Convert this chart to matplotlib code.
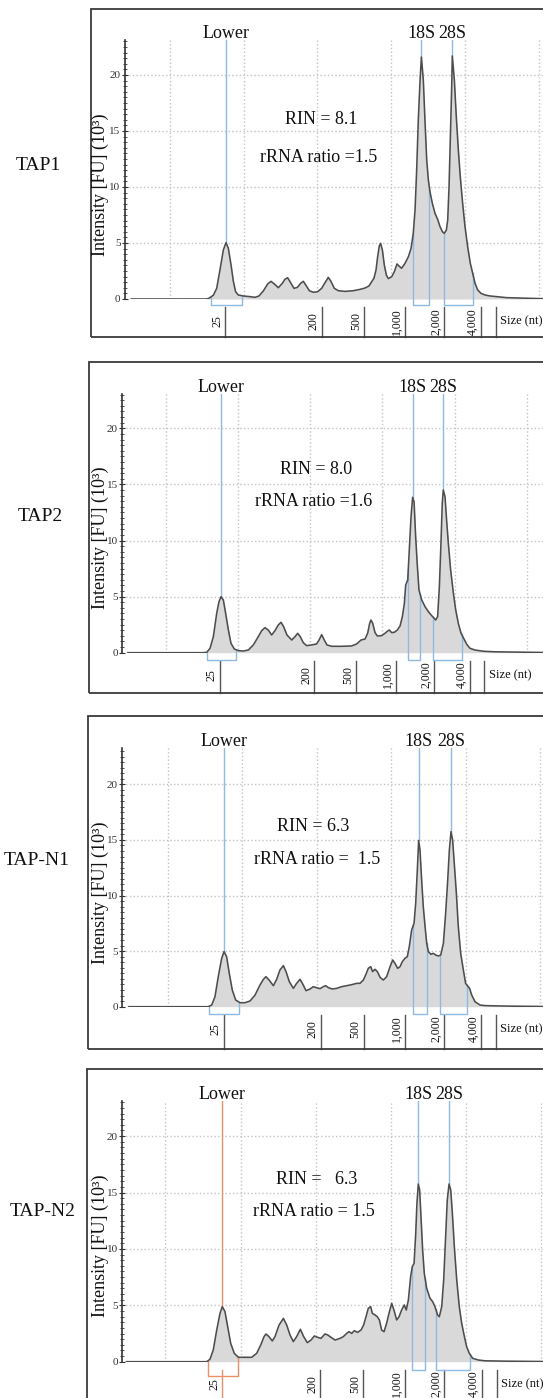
import numpy as np
import matplotlib
matplotlib.use('Agg')
import matplotlib.pyplot as plt
from matplotlib.patches import Rectangle
from matplotlib.ticker import MultipleLocator

# Times 风格字体
plt.rcParams['font.family'] = ['Liberation Serif', 'DejaVu Serif']

W, H = 543, 1398

samples = ['TAP1', 'TAP2', 'TAP-N1', 'TAP-N2']
rin_text = ['RIN = 8.1', 'RIN = 8.0', 'RIN = 6.3', 'RIN =   6.3']
ratio_text = ['rRNA ratio =1.5', 'rRNA ratio =1.6', 'rRNA ratio =  1.5', 'rRNA ratio = 1.5']

# ladder (size in nt) -> migration time (s)
ladder_nt = ['25', '200', '500', '1,000', '2,000', '4,000']
ladder_t = [23.77, 30.3, 33.17, 35.92, 38.57, 41.05]
size_sep = 42.05

# electropherograms: time (s), intensity (FU x 10^3)
t1 = [17.4, 22.4, 22.61, 22.95, 23.18, 23.40, 23.63, 23.81, 23.97, 24.15, 24.31, 24.46, 24.64, 24.98, 25.43,
      25.77, 26.04, 26.33, 26.63, 26.85, 27.08, 27.35, 27.62, 27.80, 27.98, 28.18, 28.41, 28.64, 28.86, 29.04,
      29.22, 29.45, 29.72, 30.01, 30.28, 30.51, 30.73, 30.91, 31.14, 31.41, 31.86, 32.42, 32.88, 33.21, 33.48,
      33.67, 33.82, 33.96, 34.07, 34.18, 34.27, 34.39, 34.52, 34.66, 34.79, 35.02, 35.20, 35.38, 35.51, 35.69,
      35.92, 36.15, 36.33, 36.48, 36.60, 36.71, 36.82, 36.94, 37.03, 37.16, 37.27, 37.39, 37.50, 37.61, 37.77,
      37.95, 38.13, 38.29, 38.45, 38.58, 38.72, 38.81, 38.90, 38.99, 39.08, 39.12, 39.26, 39.39, 39.53, 39.66,
      39.82, 39.98, 40.16, 40.34, 40.50, 40.66, 40.84, 41.06, 41.33, 41.67, 42.80, 44.38, 45.3]
y1 = [0.0, 0.0, 0.03, 0.33, 0.95, 2.59, 4.38, 5.03, 4.52, 3.04, 1.55, 0.65, 0.36, 0.27, 0.21,
      0.15, 0.27, 0.71, 1.34, 1.58, 1.34, 1.01, 1.40, 1.76, 1.90, 1.46, 0.95, 1.04, 1.40, 1.58,
      1.22, 0.74, 0.60, 0.65, 0.95, 1.46, 1.93, 1.58, 0.95, 0.74, 0.68, 0.74, 0.86, 0.98, 1.16,
      1.55, 1.85, 2.59, 3.78, 4.73, 4.97, 4.38, 3.04, 2.14, 1.82, 1.99, 2.44, 3.13, 2.95, 2.74,
      3.18, 3.78, 4.52, 5.86, 7.95, 11.52, 15.98, 19.55, 21.6, 19.55, 15.98, 12.41, 10.63, 9.58, 8.54,
      7.65, 7.11, 6.46, 6.01, 5.86, 6.16, 7.05, 10.03, 14.49, 18.96, 21.7, 19.55, 16.28, 13.30, 10.92,
      8.54, 6.46, 4.67, 3.18, 2.29, 1.40, 0.80, 0.51, 0.36, 0.27, 0.12, 0.06, 0.03]

t2 = [17.4, 22.5, 22.85, 23.08, 23.31, 23.54, 23.70, 23.84, 24.00, 24.16, 24.35, 24.53, 24.76, 25.04, 25.38,
      25.73, 26.07, 26.42, 26.65, 26.88, 27.11, 27.34, 27.57, 27.80, 27.99, 28.17, 28.40, 28.73, 28.96, 29.14,
      29.32, 29.53, 29.76, 30.11, 30.45, 30.62, 30.80, 30.98, 31.17, 31.49, 32.18, 32.87, 33.22, 33.52, 33.80,
      33.98, 34.12, 34.21, 34.33, 34.49, 34.65, 34.95, 35.18, 35.36, 35.48, 35.64, 35.83, 36.03, 36.22, 36.38,
      36.52, 36.61, 36.75, 36.86, 36.98, 37.09, 37.19, 37.30, 37.42, 37.53, 37.72, 37.95, 38.18, 38.41, 38.59,
      38.68, 38.82, 38.94, 39.05, 39.14, 39.21, 39.33, 39.44, 39.56, 39.72, 39.91, 40.07, 40.25, 40.44, 40.62,
      40.83, 41.06, 41.40, 41.87, 42.10, 42.79, 46.1]
y2 = [0.0, 0.0, 0.03, 0.39, 1.43, 3.51, 4.55, 4.99, 4.70, 3.51, 2.02, 0.83, 0.33, 0.18, 0.15,
      0.24, 0.69, 1.43, 1.96, 2.23, 2.02, 1.58, 1.96, 2.47, 2.71, 2.32, 1.58, 1.13, 1.43, 1.73,
      1.43, 0.89, 0.63, 0.69, 0.78, 1.13, 1.61, 1.13, 0.69, 0.57, 0.57, 0.60, 0.78, 1.13, 1.22,
      1.73, 2.62, 2.91, 2.62, 1.79, 1.49, 1.52, 1.73, 1.93, 2.02, 1.79, 1.82, 2.02, 2.38, 3.21,
      4.40, 6.03, 6.48, 9.15, 12.12, 13.85, 13.46, 10.34, 7.67, 5.59, 4.70, 4.10, 3.66, 3.30, 3.06,
      2.91, 3.21, 5.89, 9.75, 13.31, 14.50, 13.91, 11.83, 9.75, 7.37, 5.29, 3.81, 2.62, 1.73, 1.28,
      0.75, 0.39, 0.24, 0.15, 0.12, 0.08, 0.02]

t3 = [17.4, 22.5, 22.73, 22.96, 23.18, 23.40, 23.63, 23.79, 23.96, 24.14, 24.34, 24.57, 24.86, 25.19, 25.53,
      25.87, 26.20, 26.43, 26.60, 26.81, 27.10, 27.32, 27.54, 27.77, 27.95, 28.17, 28.44, 28.66, 28.89, 29.07,
      29.29, 29.56, 29.78, 30.00, 30.23, 30.45, 30.61, 30.79, 31.06, 31.35, 31.68, 32.02, 32.35, 32.69, 32.91,
      33.14, 33.32, 33.47, 33.63, 33.76, 33.92, 34.08, 34.26, 34.48, 34.70, 34.93, 35.11, 35.26, 35.44, 35.60,
      35.75, 35.93, 36.09, 36.22, 36.38, 36.54, 36.65, 36.76, 36.85, 36.94, 37.05, 37.16, 37.28, 37.39, 37.50,
      37.68, 37.83, 37.99, 38.17, 38.33, 38.51, 38.66, 38.80, 38.91, 39.02, 39.13, 39.24, 39.38, 39.51, 39.67,
      39.85, 40.00, 40.14, 40.27, 40.41, 40.63, 40.97, 41.30, 41.8, 43.0, 46.6]
y3 = [0.0, 0.0, 0.0, 0.15, 0.90, 2.70, 4.35, 4.95, 4.50, 3.00, 1.50, 0.60, 0.36, 0.36, 0.51,
      1.05, 1.95, 2.46, 2.70, 2.40, 1.89, 2.46, 3.30, 3.69, 3.15, 2.25, 1.65, 2.10, 2.46, 2.04,
      1.44, 1.59, 1.80, 1.71, 1.62, 1.80, 1.89, 1.71, 1.59, 1.65, 1.80, 1.89, 1.98, 2.10, 2.10,
      2.40, 2.94, 3.45, 3.60, 3.15, 3.36, 3.15, 2.64, 2.40, 2.70, 3.60, 4.20, 3.90, 3.45, 3.60,
      4.05, 4.35, 4.50, 5.40, 6.90, 7.50, 9.30, 12.29, 14.95, 14.09, 11.39, 9.00, 7.20, 5.70, 4.95,
      4.71, 4.80, 4.65, 4.56, 4.65, 5.70, 8.40, 11.39, 14.09, 15.74, 14.99, 12.89, 10.20, 7.20, 4.80,
      3.30, 2.10, 1.86, 1.65, 1.05, 0.45, 0.15, 0.10, 0.08, 0.05, 0.0]

t4 = [17.4, 22.5, 22.74, 22.96, 23.18, 23.41, 23.63, 23.78, 23.96, 24.14, 24.34, 24.58, 24.85, 25.29, 25.74,
      26.07, 26.34, 26.56, 26.69, 26.89, 27.11, 27.29, 27.56, 27.85, 28.07, 28.29, 28.51, 28.73, 28.98, 29.20,
      29.44, 29.69, 29.91, 30.13, 30.35, 30.62, 30.80, 31.02, 31.29, 31.62, 31.84, 32.06, 32.22, 32.40, 32.57,
      32.79, 33.02, 33.19, 33.35, 33.50, 33.66, 33.77, 33.95, 34.10, 34.24, 34.39, 34.55, 34.72, 34.88, 35.06,
      35.21, 35.39, 35.55, 35.72, 35.90, 36.03, 36.17, 36.32, 36.43, 36.55, 36.66, 36.74, 36.83, 36.92, 37.01,
      37.12, 37.23, 37.39, 37.61, 37.79, 37.94, 38.12, 38.23, 38.39, 38.52, 38.65, 38.76, 38.88, 38.99, 39.10,
      39.23, 39.39, 39.56, 39.72, 39.90, 40.05, 40.23, 40.45, 40.83, 41.27, 42.5, 46.6]
y4 = [0.0, 0.0, 0.0, 0.21, 1.04, 2.81, 4.29, 4.88, 4.44, 3.11, 1.63, 0.74, 0.39, 0.39, 0.39,
      0.74, 1.48, 2.22, 2.46, 2.22, 1.84, 2.22, 3.25, 3.84, 3.25, 2.37, 1.78, 2.22, 2.87, 2.22,
      1.69, 1.92, 2.28, 2.16, 2.07, 2.46, 2.37, 2.16, 1.92, 2.07, 2.22, 2.51, 2.66, 2.51, 2.75,
      2.60, 2.81, 3.25, 3.99, 4.73, 4.88, 4.29, 4.14, 3.99, 3.70, 2.81, 2.66, 3.40, 4.29, 5.17,
      4.58, 3.70, 3.99, 4.58, 5.03, 4.58, 5.47, 7.54, 8.42, 8.72, 11.38, 14.04, 15.75, 15.22, 12.86,
      9.90, 7.83, 6.50, 5.62, 5.32, 4.88, 4.14, 3.99, 4.88, 7.24, 11.08, 14.34, 15.75, 15.22, 13.15,
      10.20, 7.24, 4.88, 3.40, 2.22, 1.33, 0.74, 0.30, 0.15, 0.08, 0.05, 0.0]

times = [t1, t2, t3, t4]
traces = [y1, y2, y3, y4]

# peak markers and integration windows (s)
lower_pos = [23.81, 23.84, 23.79, 23.78]
s18_pos = [37.03, 37.09, 36.85, 36.83]
s28_pos = [39.12, 39.21, 39.02, 38.88]
lower_win = [(22.79, 24.87), (22.85, 24.88), (22.78, 24.81), (22.85, 24.85)]
win18 = [(36.48, 37.57), (36.79, 37.60), (36.49, 37.39), (36.43, 37.28)]
win28 = [(38.58, 40.50), (38.52, 40.48), (38.28, 40.07), (37.99, 40.27)]

# layout in pixels
frames = [(91, 9, 337), (89, 362.3, 692.7), (87.6, 715.7, 1049), (86.6, 1068.7, 1430)]
ax_x0 = [124.7, 121.9, 121.9, 121.9]
ax_base = [299.0, 652.7, 1006.7, 1361.7]
ax_top = [40.3, 394.3, 748.3, 1100.7]
grid20 = [169.7, 165.5, 167.6, 165.5]
px_per_s = [14.78, 14.46, 14.9, 15.02]
px_per_fu = [11.2, 11.22, 11.12, 11.28]
name_xy = [(38, 165), (40.7, 516.7), (36.4, 860.7), (42.3, 1211.7)]
ylab_y = [185, 537.5, 893, 1245.8]
rin_xy = [(321, 119), (315.8, 469.3), (313.4, 826.7), (316.8, 1180)]
ratio_xy = [(318.6, 157), (313.4, 501.7), (316.8, 859.3), (313.4, 1211)]
bracket_px = [6, 7, 7, 8]
lower_bracket_px = [6, 7, 7, 14]

blue = '#8db9e2'
orange = '#e8906a'
trace_c = '#4d4d4d'
fill_c = '#d9d9d9'
text_c = '#111111'

fig = plt.figure(figsize=(W / 100, H / 100), dpi=100)

for i in range(4):
    fl, ft, fb = frames[i]
    # 外框
    fig.add_artist(Rectangle((fl / W, 1 - fb / H), (W + 30 - fl) / W, (fb - ft) / H,
                             transform=fig.transFigure, fill=False, ec='#3a3a3a', lw=1.3))

    x0, base, top = ax_x0[i], ax_base[i], ax_top[i]
    pxs, ppu = px_per_s[i], px_per_fu[i]
    ax = fig.add_axes([x0 / W, 1 - base / H, (W - x0) / W, (base - top) / H])
    ax.patch.set_alpha(0)
    ytop = (base - top) / ppu
    ax.set_xlim(20 - (grid20[i] - x0) / pxs, 20 + (W - grid20[i]) / pxs)
    ax.set_ylim(0, ytop)

    for s in ['top', 'right', 'bottom']:
        ax.spines[s].set_visible(False)
    ax.spines['left'].set_color('#333333')
    ax.spines['left'].set_linewidth(1.2)

    ax.set_xticks(np.arange(20, 50, 5))
    ax.tick_params(axis='x', length=0, labelbottom=False)
    ax.set_yticks([0, 5, 10, 15, 20])
    ax.yaxis.set_minor_locator(MultipleLocator(0.5))
    ax.tick_params(axis='y', which='major', direction='inout', length=4, width=0.8,
                   labelsize=8, pad=1, colors='#333333')
    ax.tick_params(axis='y', which='minor', direction='inout', length=2.5, width=0.6, color='#333333')
    ax.grid(True, ls=':', color='#c4c4c4', lw=1)
    ax.set_axisbelow(True)

    t = np.array(times[i])
    y = np.array(traces[i])
    ax.fill_between(t, y, color=fill_c, lw=0, zorder=2)
    ax.plot(t, y, color=trace_c, lw=1.15, zorder=4)

    # Lower / 18S / 28S markers
    low_c = orange if i == 3 else blue
    for pos, lab, c in [(lower_pos[i], 'Lower', low_c), (s18_pos[i], '18S', blue), (s28_pos[i], '28S', blue)]:
        ax.plot([pos, pos], [np.interp(pos, t, y), ytop], color=c, lw=1, zorder=3)
        ax.annotate(lab, xy=(pos, ytop), xytext=(0, 1.5), textcoords='offset points',
                    ha='center', va='baseline', fontsize=13, color=text_c, annotation_clip=False)

    # integration windows
    for (a, b), c, dpx in [(lower_win[i], low_c, lower_bracket_px[i]),
                           (win18[i], blue, bracket_px[i]), (win28[i], blue, bracket_px[i])]:
        d = -dpx / ppu
        ax.plot([a, a, b, b], [np.interp(a, t, y), d, d, np.interp(b, t, y)],
                color=c, lw=1, zorder=3, clip_on=False)

    # size ladder strip
    y_sep0 = -8 / ppu
    y_sep1 = -(fb - base) / ppu
    for k in range(len(ladder_nt)):
        c = orange if (i == 3 and k == 0) else '#555555'
        ax.plot([ladder_t[k], ladder_t[k]], [y_sep0, y_sep1], color=c, lw=1, clip_on=False)
        ax.annotate(ladder_nt[k], xy=(ladder_t[k], 0), xytext=(-1.5, -16), textcoords='offset points',
                    rotation=90, ha='right', va='center', fontsize=8.5, color=text_c, annotation_clip=False)
    ax.plot([size_sep, size_sep], [y_sep0, y_sep1], color='#555555', lw=1, clip_on=False)
    ax.annotate('Size (nt)', xy=(size_sep, 0), xytext=(3, -16), textcoords='offset points',
                ha='left', va='center', fontsize=9, color=text_c, annotation_clip=False)

    # 文字
    fig.text(name_xy[i][0] / W, 1 - name_xy[i][1] / H, samples[i], fontsize=14,
             ha='center', va='center', color=text_c)
    fig.text(100 / W, 1 - ylab_y[i] / H, 'Intensity [FU] (10³)', rotation=90, fontsize=13,
             ha='center', va='center', color=text_c)
    fig.text(rin_xy[i][0] / W, 1 - rin_xy[i][1] / H, rin_text[i], fontsize=13,
             ha='center', va='center', color=text_c)
    fig.text(ratio_xy[i][0] / W, 1 - ratio_xy[i][1] / H, ratio_text[i], fontsize=13,
             ha='center', va='center', color=text_c)

fig.savefig('out.png', dpi=100, facecolor='white')
